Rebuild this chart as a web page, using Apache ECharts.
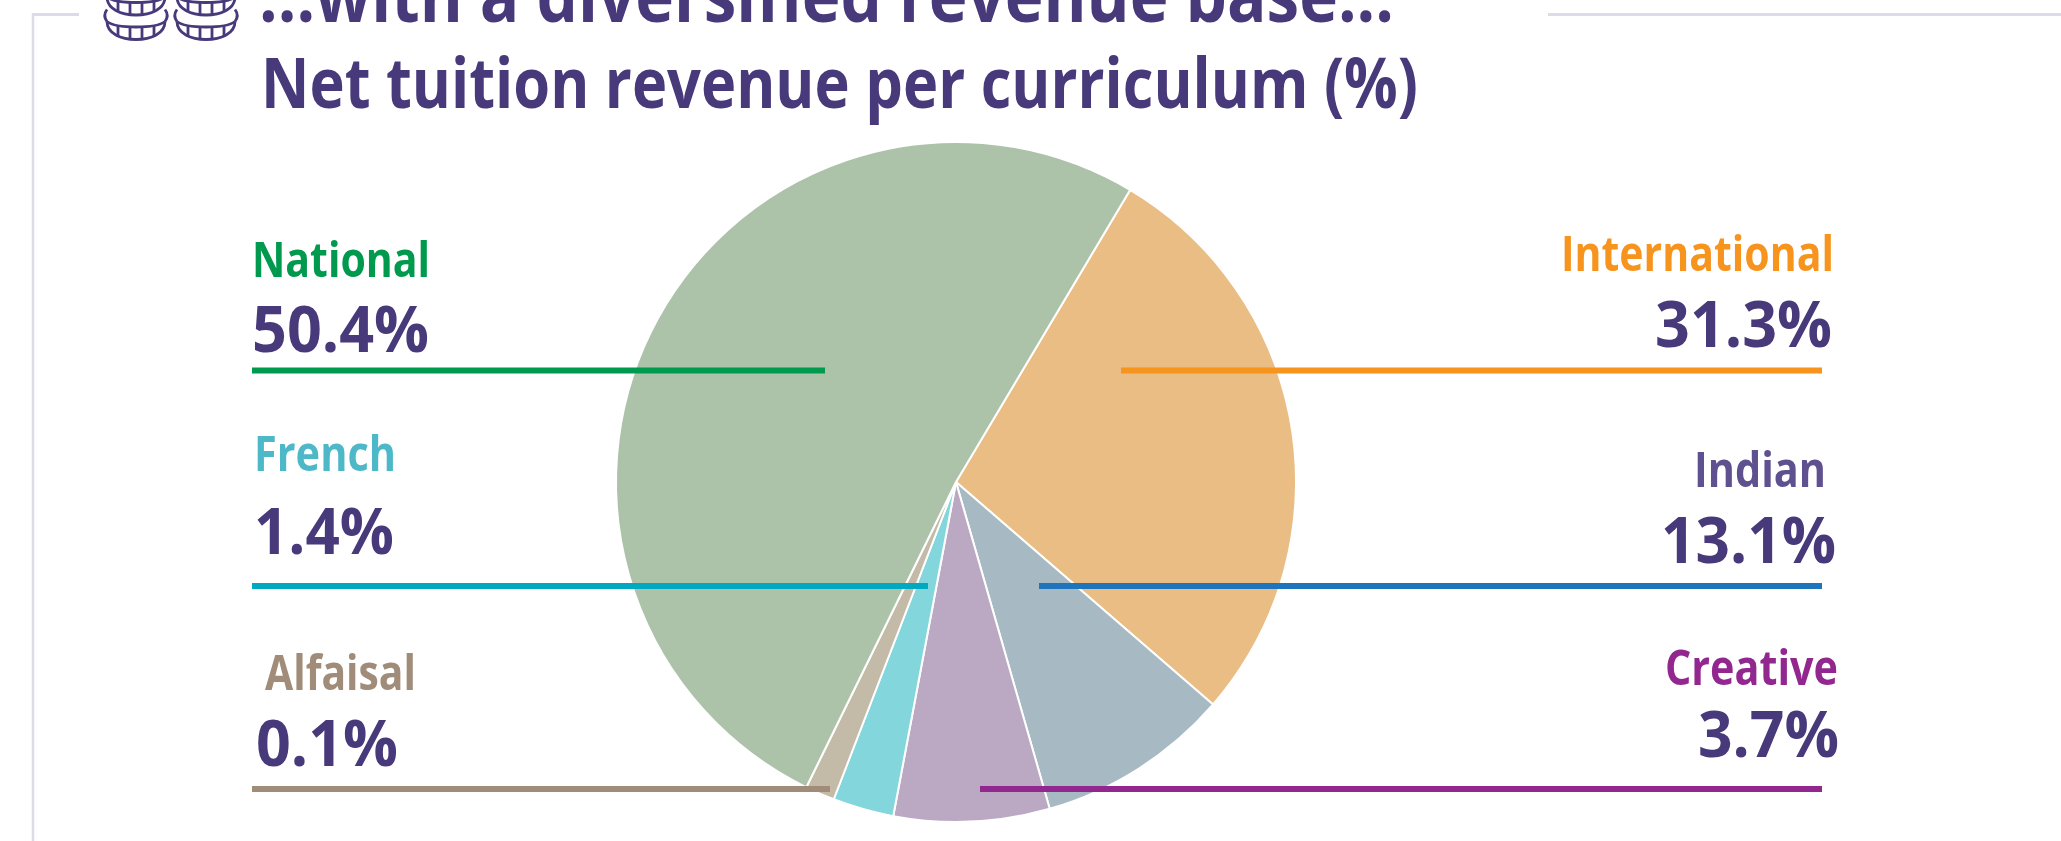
<!DOCTYPE html>
<html><head><meta charset="utf-8">
<style>html,body{margin:0;padding:0;background:#fff}#c{width:2061px;height:841px}</style>
<script src="https://cdn.jsdelivr.net/npm/echarts@6/dist/echarts.min.js"></script>
</head><body><div id="c"></div>
<script>
// Slice shares as drawn in the picture (angles)
const sliceNames  = ['International','Indian','Creative','French','Alfaisal','National'];
const sliceValues = [27.8, 9.2, 7.4, 2.9, 1.4, 51.3];
const sliceColors = ['#e9bd83','#a7bac3','#bba9c4','#82d6dc','#c4baa8','#acc3aa'];
// Printed labels
const labelNames  = ['National','French','Alfaisal','International','Indian','Creative'];
const labelValues = ['50.4%','1.4%','0.1%','31.3%','13.1%','3.7%'];
const nameColors  = ['#009a4e','#4db8c8','#a08c78','#f7941e','#5f5190','#92278f'];
const lineColors  = ['#009a4e','#00a9bf','#a08c78','#f7941e','#1f75bc','#92278f'];
const titleLines  = ['...with a diversified revenue base...','Net tuition revenue per curriculum (%)'];

const DARK = '#47397a', FRAME = '#dcdce9', FF = '"Open Sans"';
const ctx = document.createElement('canvas').getContext('2d');
function fitText(str, left, right, baseline, size, weight, color, sy) {
  const font = weight + ' ' + size + 'px ' + FF;
  ctx.font = font;
  const w = ctx.measureText(str).width;
  return { type:'text', z:20, x:left, y:baseline - 0.29*size*sy, scaleX:(right-left)/w, scaleY:sy, originX:0, originY:0,
    style:{ text:str, x:0, y:0, font:font, fill:color, textAlign:'left', verticalAlign:'middle' } };
}
function hline(x1,x2,y,color,w){ return {type:'line',z:15,shape:{x1:x1,y1:y,x2:x2,y2:y},style:{stroke:color,lineWidth:w}}; }
function bez(x1,y1,c1x,c1y,c2x,c2y,x2,y2){
  return {type:'bezierCurve',z:20,shape:{x1:x1,y1:y1,cpx1:c1x,cpy1:c1y,cpx2:c2x,cpy2:c2y,x2:x2,y2:y2},style:{stroke:DARK,lineWidth:2.8,fill:null}};
}
function seg(x1,y1,x2,y2){ return {type:'line',z:20,shape:{x1:x1,y1:y1,x2:x2,y2:y2},style:{stroke:DARK,lineWidth:2.8}}; }
function coinLayer(cx,by){
  return [
    bez(cx-29,by-18, cx-29,by-6, cx-15,by, cx,by),
    bez(cx,by, cx+15,by, cx+29,by-6, cx+29,by-18),
    bez(cx-29,by-18, cx-24,by-14, cx-12,by-12.5, cx,by-12.5),
    bez(cx,by-12.5, cx+12,by-12.5, cx+24,by-14, cx+29,by-18),
    seg(cx-18,by-14,cx-18,by-3), seg(cx-6,by-13,cx-6,by-1), seg(cx+6,by-13,cx+6,by-1), seg(cx+18,by-14,cx+18,by-3),
    bez(cx-29,by-18, cx-32,by-22, cx-32,by-26, cx-29,by-30),
    bez(cx+29,by-18, cx+32,by-22, cx+32,by-26, cx+29,by-30)
  ];
}
const els = [];
// frame
els.push(hline(32,79,14.5,FRAME,3), hline(1548,2061,14.5,FRAME,3));
els.push({type:'line',z:1,shape:{x1:33,y1:13,x2:33,y2:841},style:{stroke:FRAME,lineWidth:2.5}});
// coins
[136,206].forEach(cx=>{ els.push(...coinLayer(cx,39.5), ...coinLayer(cx,15)); });
// titles
els.push(fitText(titleLines[0],259,1394,22,70,700,DARK,1.05));
els.push(fitText(titleLines[1],261,1418,108,68,700,DARK,1.04));
// labels: [name left,right,baseline, value left,right,baseline]
const spots = [
 [252,430,277, 252,429,352],
 [254,396,471, 254,394,554],
 [265,416,690, 256,398,766],
 [1561,1834,271, 1655,1832,347],
 [1694,1826,487, 1661,1836,563],
 [1665,1838,685, 1698,1839,757]
];
const rules = [[252,825,370.5],[252,928,586],[252,830,789],[1121,1822,370.5],[1039,1822,586],[980,1822,789]];
labelNames.forEach((n,i)=>{
  const s = spots[i], r = rules[i];
  els.push(fitText(n,s[0],s[1],s[2],46,700,nameColors[i],1.04));
  els.push(fitText(labelValues[i],s[3],s[4],s[5],63,700,DARK,1.02));
  els.push(hline(r[0],r[1],r[2],lineColors[i],6));
});

const chart = echarts.init(document.getElementById('c'),null,{renderer:'canvas'});
chart.setOption({
  animation:false, backgroundColor:'#fff',
  series:[{ type:'pie', center:[956,482], radius:[0,340], startAngle:59.2, clockwise:true, silent:true,
    label:{show:false}, labelLine:{show:false},
    itemStyle:{borderColor:'#fff',borderWidth:2},
    data:sliceNames.map((n,i)=>({name:n,value:sliceValues[i],itemStyle:{color:sliceColors[i]}})) }],
  graphic:{elements:els}
});
</script></body></html>
